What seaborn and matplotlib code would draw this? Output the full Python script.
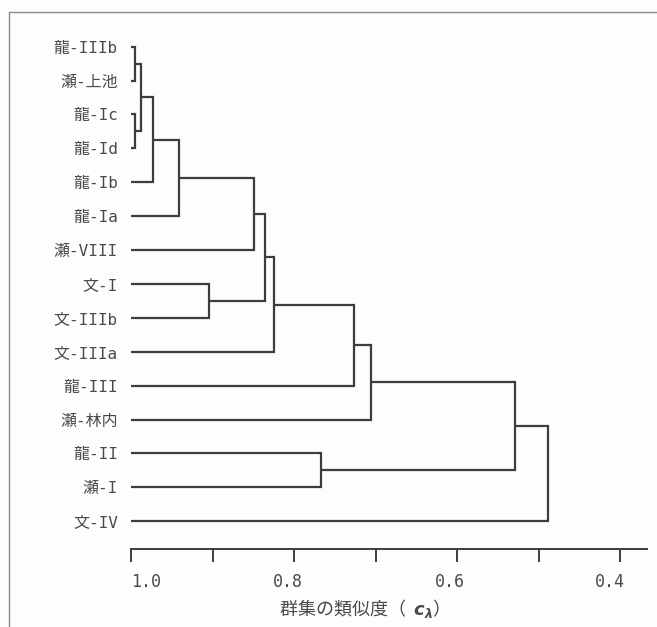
import numpy as np
import pandas as pd
import matplotlib
matplotlib.use("Agg")
import matplotlib.pyplot as plt
import matplotlib.transforms as mtransforms
from matplotlib.lines import Line2D
import seaborn as sns

# ---- data ----
leaves = ["龍-IIIb", "瀬-上池", "龍-Ic", "龍-Id", "龍-Ib", "龍-Ia", "瀬-VIII",
          "文-I", "文-IIIb", "文-IIIa", "龍-III", "瀬-林内", "龍-II", "瀬-I", "文-IV"]
# merge i creates cluster id len(leaves)+i
merge_left = [0, 2, 15, 17, 18, 19, 7, 20, 22, 23, 24, 12, 25, 27]
merge_right = [1, 3, 16, 4, 5, 6, 8, 21, 9, 10, 11, 13, 26, 14]
merge_sim = [0.995, 0.995, 0.988, 0.973, 0.941, 0.849, 0.904, 0.836, 0.825,
             0.726, 0.705, 0.767, 0.529, 0.488]
major_ticks = [1.0, 0.8, 0.6, 0.4]
minor_ticks = [0.9, 0.7, 0.5]
tick_labels = ["1.0", "0.8", "0.6", "0.4"]
xlabel = "群集の類似度（  $c_{\\lambda}$）"

# ---- style ----
sns.set_theme(style="white")
plt.rcParams["font.family"] = ["DejaVu Sans Mono", "Noto Sans CJK JP"]
plt.rcParams["mathtext.fontset"] = "custom"
plt.rcParams["mathtext.it"] = "DejaVu Sans:italic:bold"
plt.rcParams["mathtext.rm"] = "DejaVu Sans"
plt.rcParams["mathtext.bf"] = "DejaVu Sans:bold"

line_col = "#3d3d3d"
text_col = "#4a4a4a"
bg = "#fdfdfd"

W, H = 657, 627
fig = plt.figure(figsize=(W / 100, H / 100), dpi=100, facecolor=bg)
ax = fig.add_axes([131 / W, 1 - 549 / H, (647 - 131) / W, (549 - 30) / H])
ax.set_facecolor(bg)

# ---- build dendrogram segments from the linkage ----
n = len(leaves)
node_x = {i: 1.0 for i in range(n)}
node_y = {i: float(i) for i in range(n)}
rows = []
for i, (a, b, h) in enumerate(zip(merge_left, merge_right, merge_sim)):
    pts = [(node_x[a], node_y[a]), (h, node_y[a]), (h, node_y[b]), (node_x[b], node_y[b])]
    for k, (px, py) in enumerate(pts):
        rows.append({"seg": i, "order": k, "x": px, "y": py})
    node_x[n + i] = h
    node_y[n + i] = (node_y[a] + node_y[b]) / 2
df = pd.DataFrame(rows)

sns.lineplot(data=df, x="x", y="y", units="seg", estimator=None, sort=False,
             color=line_col, linewidth=1.6, ax=ax, legend=False)
for l in ax.get_lines():
    l.set_solid_joinstyle("miter")
    l.set_solid_capstyle("butt")

ax.set_xlim(1.0, 0.367)
ax.set_ylim(14.82, -0.49)

# y: leaf labels
ax.set_yticks(range(n))
ax.set_yticklabels(leaves, fontsize=11.5, color=text_col)
ax.tick_params(axis="y", length=0, pad=9.5)

# x: ticks
ax.set_xticks(major_ticks)
ax.set_xticks(minor_ticks, minor=True)
ax.set_xticklabels(tick_labels, fontsize=12, color=text_col)
ax.tick_params(axis="x", which="both", direction="out", length=9, width=1.4,
               color=line_col, pad=8, bottom=True)
offsets = [15, -6, -7, -10]
for lab, dx in zip(ax.get_xticklabels(), offsets):
    lab.set_transform(lab.get_transform() +
                      mtransforms.ScaledTranslation(dx / 100, 0, fig.dpi_scale_trans))

ax.set_xlabel("")
ax.set_ylabel("")
sns.despine(ax=ax, left=True, top=True, right=True, bottom=False)
ax.spines["bottom"].set_color(line_col)
ax.spines["bottom"].set_linewidth(1.4)

fig.text(360 / W, 1 - 609 / H, xlabel, ha="center", va="center",
         fontsize=13, color=text_col, family=["Noto Sans CJK JP", "DejaVu Sans"])

# scanned frame edges
fig.add_artist(Line2D([9 / W, 9 / W], [0, 1 - 12 / H], transform=fig.transFigure,
                      color="#8a8a8a", lw=1.0))
fig.add_artist(Line2D([9 / W, 1], [1 - 12 / H, 1 - 12 / H], transform=fig.transFigure,
                      color="#8a8a8a", lw=1.0))

fig.savefig("out.png", dpi=100, facecolor=bg)
